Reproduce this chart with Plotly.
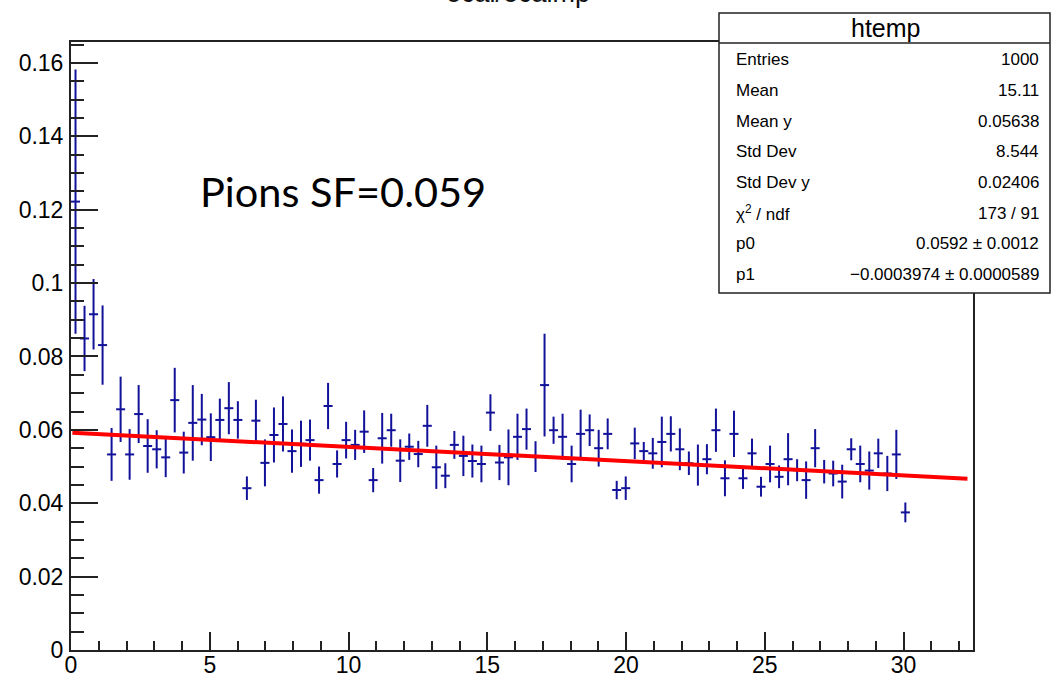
import plotly.graph_objects as go

# ---------------- data ----------------
BIN_WIDTH = 0.325   # 100 bins over [0, 32.5]
profile_y = [
    0.1222, 0.0849, 0.0915, 0.0831, 0.0533, 0.0656, 0.0533, 0.0643, 0.0556, 0.0547,
    0.0525, 0.0681, 0.0538, 0.0619, 0.0628, 0.0580, 0.0627, 0.0659, 0.0627, 0.0441,
    0.0625, 0.0510, 0.0586, 0.0616, 0.0542, 0.0562, 0.0572, 0.0463, 0.0665, 0.0507,
    0.0572, 0.0559, 0.0595, 0.0463, 0.0577, 0.0599, 0.0516, 0.0554, 0.0534, 0.0611,
    0.0498, 0.0475, 0.0559, 0.0529, 0.0515, 0.0507, 0.0647, 0.0511, 0.0525, 0.0581,
    0.0602, 0.0527, 0.0722, 0.0599, 0.0581, 0.0507, 0.0589, 0.0599, 0.0550, 0.0589,
    0.0436, 0.0441, 0.0563, 0.0542, 0.0536, 0.0567, 0.0589, 0.0547, 0.0509, 0.0504,
    0.0520, 0.0599, 0.0468, 0.0589, 0.0468, 0.0536, 0.0445, 0.0507, 0.0472, 0.0520,
    0.0490, 0.0463, 0.0550, 0.0486, 0.0481, 0.0459, 0.0547, 0.0507, 0.0489, 0.0536,
    0.0481, 0.0533, 0.0375,
]
profile_err = [
    0.0360, 0.0089, 0.0096, 0.0108, 0.0072, 0.0089, 0.0069, 0.0079, 0.0073, 0.0052,
    0.0054, 0.0088, 0.0057, 0.0103, 0.0070, 0.0065, 0.0058, 0.0071, 0.0051, 0.0032,
    0.0057, 0.0064, 0.0075, 0.0075, 0.0059, 0.0063, 0.0056, 0.0037, 0.0063, 0.0037,
    0.0050, 0.0041, 0.0058, 0.0033, 0.0069, 0.0045, 0.0058, 0.0036, 0.0036, 0.0057,
    0.0059, 0.0034, 0.0038, 0.0055, 0.0045, 0.0050, 0.0050, 0.0048, 0.0076, 0.0063,
    0.0056, 0.0042, 0.0140, 0.0037, 0.0063, 0.0050, 0.0066, 0.0043, 0.0050, 0.0042,
    0.0025, 0.0032, 0.0043, 0.0025, 0.0042, 0.0069, 0.0048, 0.0057, 0.0032, 0.0056,
    0.0041, 0.0059, 0.0049, 0.0063, 0.0029, 0.0040, 0.0027, 0.0050, 0.0031, 0.0071,
    0.0030, 0.0051, 0.0052, 0.0032, 0.0035, 0.0046, 0.0030, 0.0050, 0.0052, 0.0040,
    0.0048, 0.0067, 0.0027,
]
profile_x = [(i + 0.5) * BIN_WIDTH for i in range(len(profile_y))]

fit_x = [0.05, 32.3]
fit_y = [0.0592, 0.0467]

x_tick_vals = [0, 5, 10, 15, 20, 25, 30]
x_tick_text = ["0", "5", "10", "15", "20", "25", "30"]
y_tick_vals = [0, 0.02, 0.04, 0.06, 0.08, 0.10, 0.12, 0.14, 0.16]
y_tick_text = ["0", "0.02", "0.04", "0.06", "0.08", "0.1", "0.12", "0.14", "0.16"]

stats_labels = ["Entries", "Mean", "Mean y", "Std Dev", "Std Dev y",
                "\u03c7<sup>2</sup> / ndf", "p0", "p1"]
stats_values = ["1000", "15.11", "0.05638", "8.544", "0.02406", "173 / 91",
                "0.0592 \u00b1 0.0012", "\u22120.0003974 \u00b1 0.0000589"]

title_text = "ecal/ecalmp"
note_text = "Pions SF=0.059"
stats_title = "htemp"

# ---------------- geometry ----------------
W, H = 1051, 678
L, R, T, B = 71, 973, 42, 650   # frame in pixels


def px(xp):
    return (xp - L) / (R - L)


def py(yp):
    return (B - yp) / (B - T)


FONT = "Liberation Sans, Arial, sans-serif"
AX = "#222222"
BLUE = "#11119a"

fig = go.Figure()
fig.add_trace(go.Scatter(
    x=profile_x, y=profile_y, mode="markers",
    marker=dict(size=1, color=BLUE, opacity=0),
    error_y=dict(type="data", array=profile_err, visible=True,
                 color=BLUE, thickness=2, width=0),
    error_x=dict(type="constant", value=BIN_WIDTH / 2, visible=True,
                 color=BLUE, thickness=2, width=0),
    showlegend=False, hoverinfo="skip",
))
fig.add_trace(go.Scatter(
    x=fit_x, y=fit_y, mode="lines",
    line=dict(color="#ff0000", width=4),
    showlegend=False, hoverinfo="skip",
))

fig.update_layout(
    width=W, height=H,
    margin=dict(l=L, r=W - R, t=T, b=H - B, pad=0),
    paper_bgcolor="white", plot_bgcolor="white",
    font=dict(family=FONT, color="black"),
    showlegend=False,
    xaxis=dict(
        range=[0, 32.5], showgrid=False, zeroline=False,
        showline=True, mirror=True, linecolor=AX, linewidth=2,
        ticks="inside", ticklen=18, tickwidth=1.5, tickcolor=AX,
        tickvals=x_tick_vals, ticktext=x_tick_text,
        tickfont=dict(family=FONT, size=23, color="black"),
        ticklabelstandoff=-7,
        minor=dict(ticks="inside", ticklen=9, tickwidth=1.5, tickcolor=AX,
                   dtick=1, tick0=0, showgrid=False),
        automargin=False,
    ),
    yaxis=dict(
        range=[0, 0.1657], showgrid=False, zeroline=False,
        showline=True, mirror=True, linecolor=AX, linewidth=2,
        ticks="inside", ticklen=27, tickwidth=1.5, tickcolor=AX,
        tickvals=y_tick_vals, ticktext=y_tick_text,
        tickfont=dict(family=FONT, size=23, color="black"),
        ticklabelstandoff=1,
        minor=dict(ticks="inside", ticklen=13, tickwidth=1.5, tickcolor=AX,
                   dtick=0.005, tick0=0, showgrid=False),
        automargin=False,
    ),
)

shapes = [
    dict(type="rect", xref="paper", yref="paper",
         x0=px(719), x1=px(1050), y0=py(293), y1=py(13),
         line=dict(color=AX, width=1.5), fillcolor="white", layer="above"),
    dict(type="line", xref="paper", yref="paper",
         x0=px(719), x1=px(1050), y0=py(43), y1=py(43),
         line=dict(color=AX, width=1.5), layer="above"),
]
fig.update_layout(shapes=shapes)

ann = []
ann.append(dict(text=title_text, xref="paper", yref="paper",
                x=px(518), y=py(-7), xanchor="center", yanchor="middle",
                showarrow=False, font=dict(family=FONT, size=27, color="#111")))
ann.append(dict(text=note_text, xref="paper", yref="paper",
                x=px(198), y=py(191), xanchor="left", yanchor="middle",
                showarrow=False, font=dict(family="Lato, Open Sans, sans-serif",
                                           size=41.5, color="black")))
ann.append(dict(text=stats_title, xref="paper", yref="paper",
                x=px(885), y=py(28), xanchor="center", yanchor="middle",
                showarrow=False, font=dict(family=FONT, size=25, color="black")))
for i, (lab, val) in enumerate(zip(stats_labels, stats_values)):
    yc = 60 + 30.6 * i
    ann.append(dict(text=lab, xref="paper", yref="paper",
                    x=px(734), y=py(yc), xanchor="left", yanchor="middle",
                    showarrow=False, font=dict(family=FONT, size=17, color="black")))
    ann.append(dict(text=val, xref="paper", yref="paper",
                    x=px(1041), y=py(yc), xanchor="right", yanchor="middle",
                    showarrow=False, font=dict(family=FONT, size=17, color="black")))
fig.update_layout(annotations=ann)

fig.write_html("out.html", config={"displayModeBar": False},
               post_script="document.body.style.margin='0';")
